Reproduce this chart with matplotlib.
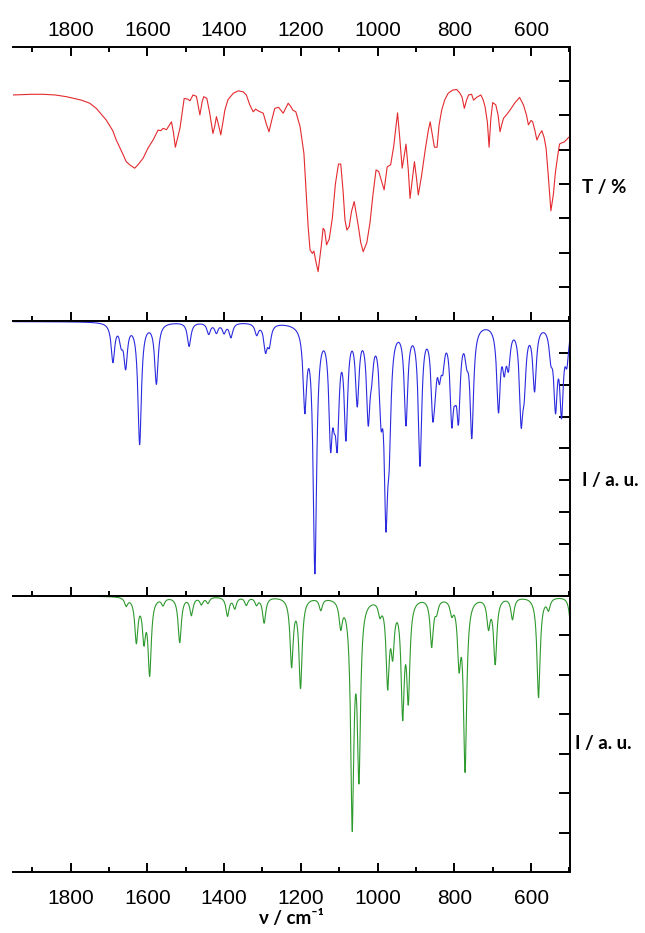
import matplotlib

matplotlib.use("Agg")
import matplotlib.pyplot as plt
import numpy as np
from matplotlib.ticker import MultipleLocator

# Experimental FT-IR spectrum, traced: wavenumber / cm-1 and transmittance / %
exp_wavenumber = [
    1950, 1900, 1872, 1840, 1811, 1772, 1750, 1733, 1707, 1690, 1681, 1665, 1655, 1645,
    1633, 1625, 1611, 1598, 1585, 1572, 1565, 1559, 1550, 1537, 1532, 1527, 1522, 1515,
    1504, 1495, 1489, 1481, 1472, 1463, 1457, 1453, 1445, 1438, 1429, 1424, 1420, 1414,
    1408.6, 1403, 1398, 1390, 1376, 1363, 1350, 1342, 1333, 1324, 1318, 1310, 1298, 1290,
    1283, 1276, 1268, 1258, 1246, 1233, 1226, 1221, 1213, 1202, 1192, 1181, 1176, 1170,
    1166, 1160, 1155, 1150, 1146, 1142, 1138, 1133, 1126, 1118, 1110, 1102, 1096, 1090,
    1085, 1080, 1074, 1068, 1061, 1055, 1050, 1044, 1037.5, 1028, 1020, 1012, 1004, 997,
    990, 983, 975, 966, 958, 948, 942, 936, 931, 926, 920, 915.5, 910, 904, 899, 894, 886,
    876, 868, 863, 857, 852, 845, 840, 833, 825, 816, 805, 794, 786, 780, 774, 768, 763,
    755, 750, 742, 731, 725, 720, 714, 709.5, 705, 700, 692, 686, 681, 676, 672, 663, 655,
    643, 630, 620, 612, 607, 600, 596, 590, 585, 578, 572, 566, 561, 555, 548.5, 542, 537,
    531, 526, 520, 514, 508.5, 502, 500,
]
exp_transmittance = [
    85.9, 86.1, 86.1, 85.9, 85.4, 84.4, 83.5, 82.0, 78.6, 75.5, 72.8, 69.0, 66.5, 65.5,
    64.6, 65.5, 67.5, 70.5, 72.8, 75.7, 75.5, 76.2, 75.8, 78.1, 75.0, 70.7, 73.0, 76.2,
    84.9, 84.7, 84.2, 85.9, 85.5, 80.1, 84.0, 85.4, 84.9, 81.0, 74.7, 77.0, 79.6, 77.0,
    74.3, 78.0, 81.5, 84.5, 86.4, 87.1, 86.8, 85.9, 83.0, 81.0, 81.8, 81.2, 80.6, 77.5,
    75.2, 78.5, 82.0, 82.3, 80.6, 83.5, 82.5, 81.5, 81.0, 76.7, 68.9, 47.6, 40.8, 39.8,
    40.5, 37.0, 34.5, 39.0, 42.7, 47.1, 46.5, 42.3, 44.0, 50.0, 60.0, 65.8, 65.8, 58.0,
    49.5, 46.6, 47.6, 52.0, 54.9, 51.0, 47.6, 43.0, 40.3, 43.0, 48.6, 57.0, 64.1, 63.6,
    61.0, 58.3, 65.0, 65.6, 71.0, 80.7, 73.0, 64.6, 68.0, 71.6, 64.0, 55.8, 61.0, 66.5, 62.0, 56.8, 62.0,
    69.9, 75.5, 78.1, 74.0, 70.7, 70.7, 77.0, 81.5, 84.5, 86.4, 87.3, 87.5, 86.5, 85.3, 82.0, 84.5, 85.9,
    86.1, 84.4, 85.2, 85.9, 84.5, 82.5, 78.0, 70.7, 79.0, 83.7, 83.0, 80.0, 75.2, 77.5, 79.1, 80.3, 81.5,
    83.5, 85.2, 83.0, 80.0, 77.2, 78.5, 78.1, 75.5, 72.8, 74.5, 75.5, 73.5, 70.4, 62.0, 52.2, 57.0, 63.1,
    68.0, 71.6, 72.0, 72.2, 72.8, 73.6, 73.5,
]

# Calculated spectrum 1: band positions / cm-1 and intensities (arb. units)
calc1_position = [
    1689.6, 1668, 1656.5, 1620, 1576.4, 1491, 1440, 1420, 1400, 1382, 1315, 1292, 1282,
    1189.5, 1163.4, 1122.5, 1113, 1105, 1082.5, 1053, 1024.4, 1015.5, 991, 978.2, 969.6,
    926, 889.5, 856.3, 850.3, 839, 830, 806.7, 798, 789.3, 767.6, 754.6, 685, 670, 659,
    626, 618, 591, 548.5, 536.4, 520.7, 506.8,
]
calc1_intensity = [
    1.2, 0.5, 1.3, 3.8, 1.9, 0.75, 0.35, 0.3, 0.3, 0.45, 0.35, 0.8, 0.6,
    2.5, 7.7, 3.2, 1.5, 3.0, 3.3, 2.3, 2.7, 0.9, 2.2, 5.3, 2.8,
    3.0, 4.3, 2.3, 1.0, 1.1, 0.9, 2.6, 1.0, 2.5, 0.7, 3.4, 2.6, 1.1, 1.1,
    2.7, 1.5, 2.0, 0.8, 2.4, 2.6, 1.0,
]

# Calculated spectrum 2: band positions / cm-1 and intensities (arb. units)
calc2_position = [
    1655, 1628.6, 1608.7, 1593.9, 1559, 1515.6, 1485, 1459, 1442, 1391, 1372, 1342, 1315.5,
    1295.6, 1224, 1200.8, 1148, 1096, 1066, 1048.6, 993.8, 973.7, 960.7, 934.6, 920,
    859, 846, 806.7, 787.7, 772, 711, 693.6, 648.5, 580.6, 554.6, 495,
]
calc2_intensity = [
    0.2, 1.1, 1.0, 1.9, 0.18, 1.15, 0.45, 0.18, 0.15, 0.48, 0.28, 0.2, 0.18,
    0.65, 1.7, 2.25, 0.3, 0.65, 5.6, 4.3, 0.32, 2.1, 1.2, 2.8, 2.4,
    1.2, 0.28, 0.32, 1.5, 4.3, 0.7, 1.65, 0.55, 2.55, 0.28, 1.0,
]

CALC1_HWHM = 5.5
CALC2_HWHM = 5.0


def lorentzian_spectrum(grid, positions, intensities, hwhm):
    pos = np.asarray(positions, dtype=float)[:, None]
    amp = np.asarray(intensities, dtype=float)[:, None]
    return (amp * hwhm**2 / ((grid[None, :] - pos) ** 2 + hwhm**2)).sum(axis=0)


grid = np.linspace(500, 1950, 4000)
calc1 = lorentzian_spectrum(grid, calc1_position, calc1_intensity, CALC1_HWHM)
calc2 = lorentzian_spectrum(grid, calc2_position, calc2_intensity, CALC2_HWHM)

plt.rcParams["font.family"] = ["Liberation Sans", "DejaVu Sans"]
label_font = dict(family=["Lato", "DejaVu Sans"], fontweight="bold", fontsize=13.5)

W, H = 645, 933
fig = plt.figure(figsize=(W / 100, H / 100), dpi=100)
left, right = 13 / W, 569.5 / W


def panel(top_px, bottom_px):
    return fig.add_axes([left, 1 - bottom_px / H, right - left, (bottom_px - top_px) / H])


ax1 = panel(46.5, 321.5)
ax2 = panel(321.5, 596)
ax3 = panel(596, 872)

ax1.plot(exp_wavenumber, exp_transmittance, color="#e42a2e", linewidth=0.8)
ax2.plot(grid, calc1, color="#2a2ae0", linewidth=0.8)
ax3.plot(grid, calc2, color="#2e9a2e", linewidth=0.8)

ax1.set_ylim(20, 100)
ax1.yaxis.set_major_locator(MultipleLocator(10))
ax2.set_ylim(8.65, 0)
ax2.yaxis.set_major_locator(MultipleLocator(1))
ax3.set_ylim(7, 0)
ax3.yaxis.set_major_locator(MultipleLocator(1))

for ax in (ax1, ax2, ax3):
    ax.set_xlim(1950, 500)
    ax.xaxis.set_major_locator(MultipleLocator(200))
    ax.xaxis.set_minor_locator(MultipleLocator(100))
    ax.spines["left"].set_visible(False)
    for side in ("top", "bottom", "right"):
        ax.spines[side].set_linewidth(1.4)
    ax.tick_params(axis="x", which="both", direction="in", width=1.4,
                   top=False, bottom=True, labelbottom=False, labeltop=False,
                   labelsize=15, pad=12)
    ax.tick_params(axis="x", which="major", length=6.5)
    ax.tick_params(axis="x", which="minor", length=3.6)
    ax.tick_params(axis="y", which="both", direction="in", width=1.4, length=8,
                   left=False, right=True, labelleft=False, labelright=False)
    ax.set_yticks([t for t in ax.get_yticks()
                   if min(ax.get_ylim()) < t < max(ax.get_ylim())])

ax1.tick_params(axis="x", which="both", top=True, labeltop=True, pad=5)
ax3.tick_params(axis="x", which="both", labelbottom=True)

ax1.text(1.023, 0.4865, "T / %", transform=ax1.transAxes, ha="left", va="center", **label_font)
ax2.text(1.023, 0.419, "I / a. u.", transform=ax2.transAxes, ha="left", va="center", **label_font)
ax3.text(1.009, 0.467, "I / a. u.", transform=ax3.transAxes, ha="left", va="center", **label_font)
ax3.set_xlabel("ν / cm⁻¹", labelpad=2, **label_font)

fig.savefig("out.png", dpi=100)
